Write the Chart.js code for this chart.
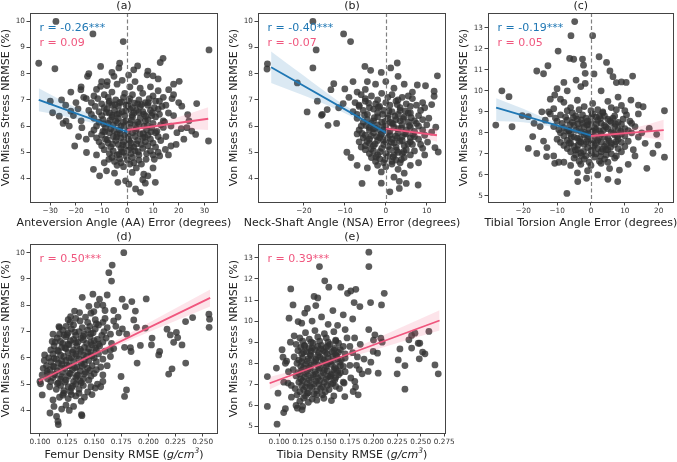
<!DOCTYPE html>
<html>
<head>
<meta charset="utf-8">
<script src="https://cdn.jsdelivr.net/npm/chart.js@4.4.1/dist/chart.umd.min.js"></script>
<style>
  body { margin: 0; background: #fff; width: 677px; height: 462px; position: relative; overflow: hidden; }
  canvas { position: absolute; }
</style>
</head>
<body>
<canvas id="chartA" width="240" height="232" style="left:0;top:0"></canvas>
<canvas id="chartB" width="252" height="232" style="left:214px;top:0"></canvas>
<canvas id="chartC" width="233" height="232" style="left:444px;top:0"></canvas>
<canvas id="chartD" width="240" height="231" style="left:0;top:231px"></canvas>
<canvas id="chartE" width="252" height="231" style="left:214px;top:231px"></canvas>
<script>
// --- data ---

// (a) anteversion angle error vs stress NRMSE
const aaPoints = [
  [-27.8,10.0],[-13.4,9.52],[-1.6,9.23],[-34.5,8.4],[-28.2,8.19],[31.8,8.91],[12.8,8.43],[-10.4,8.28],[-3.3,8.22],[2.5,8.15],
  [7.7,7.96],[10,7.92],[20.2,7.71],[-15.5,7.9],[-30,6.95],[-29.1,6.51],[-25.6,7.0],[-26.5,6.38],[-23.9,6.19],[-22.6,6.0],
  [-20.5,5.24],[-17.7,5.94],[-18.1,7.39],[-22,6.57],[-19.2,6.66],[-15.9,4.99],[-13.2,4.35],[-10.8,4.1],[-8.1,4.29],[-7.2,4.73],
  [-3.7,3.85],[-0.7,3.91],[0.6,3.78],[3.2,3.6],[5.1,3.47],[7,3.82],[10.9,3.85],[6.4,4.16],[1.9,4.23],[7.3,4.73],
  [10.5,4.73],[12.6,4.86],[14.8,5.11],[17,5.24],[19.3,5.75],[23.2,5.94],[25.1,5.81],[26.6,5.68],[27,6.86],[23.5,6.44],
  [21.2,6.76],[18,7.2],[17.4,7.05],[16.1,7.39],[31.6,5.43],[13.9,8.59],[-10.4,7.52],[-5.2,7.9],[-7.8,7.7],
  [-8,7.55],[-4,7.6],[1,7.5],[5,7.45],[9,7.5],[-12,7.4],[12,7.35],[3,7.7],[-2,7.75],
  [-13,7.15],[-9,7.2],[-6,7.3],[-1,7.25],[2,7.2],[6,7.25],[10,7.15],[14,7.1],[-16,7.05],
  [-14,6.9],[-10,6.85],[-7,6.95],[-3,6.9],[0.5,6.95],[4,6.85],[7,6.9],[11,6.95],[15,6.8],
  [-15,6.6],[-11,6.55],[-8,6.65],[-5,6.6],[-2,6.55],[1,6.65],[3.5,6.6],[6,6.55],[9,6.6],[12,6.65],[16,6.5],
  [-13,6.3],[-9.5,6.25],[-6,6.35],[-3.5,6.3],[-0.5,6.2],[2,6.35],[5,6.3],[8,6.25],[11,6.35],[14,6.2],
  [-12,6.0],[-8.5,5.95],[-5.5,6.05],[-2.5,6.0],[0.8,5.95],[3,6.05],[6.5,6.0],[9.5,5.95],[13,6.05],[17,6.0],
  [-14,5.7],[-10,5.65],[-7,5.75],[-4,5.7],[-1,5.65],[2,5.75],[5,5.7],[8,5.65],[11,5.75],[15,5.6],
  [-11,5.4],[-7.5,5.35],[-4.5,5.45],[-1.5,5.4],[1.5,5.35],[4,5.45],[7,5.4],[10,5.35],[13,5.45],
  [-9,5.1],[-5.5,5.05],[-2.5,5.15],[0.5,5.1],[3,5.05],[6,5.15],[9,5.05],[12,5.0],
  [-6,4.8],[-3,4.75],[-0.5,4.85],[2,4.8],[4.5,4.7],[-4,4.5],[-1.5,4.45],[1,4.55],[3.5,4.4],
  [-20,6.9],[-18,6.2],[-19,5.6],[-17,7.1],[-16,5.5],[-21,6.4],[18,6.4],[19,5.3],[20,6.9],[21,5.9],
  [16,4.9],[18,7.6],[-12,4.9],[-9,4.6],[10,4.4],[8,4.1],[-5,4.2],[6,3.95],[-22,7.3],[-24,6.8],
  [-15,8.0],[-6,8.05],[4,8.3],[8,8.1],[-10,7.7],[12,7.8],[-3,8.4],[0.5,7.95],[-18,7.5],[24,6.2],[22,5.5],[-25,6.1],
  [-11.5,7.05],[-7.5,7.1],[-4.5,7.0],[-1.5,7.1],[1,7.05],[4.5,7.0],[8.5,7.05],[12.5,6.95],
  [-12.5,6.75],[-9,6.7],[-6,6.8],[-3.5,6.75],[-0.5,6.8],[2,6.7],[5,6.75],[8,6.8],[10.5,6.7],[13.5,6.75],
  [-14,6.45],[-10,6.4],[-7,6.5],[-4,6.45],[-1,6.4],[2.5,6.5],[6.5,6.45],[9.5,6.4],[12.5,6.45],
  [-11,6.15],[-7.5,6.1],[-4.5,6.2],[-1.5,6.15],[1,6.1],[4,6.15],[7,6.2],[10,6.1],[14.5,6.15],
  [-13,5.85],[-9.5,5.8],[-6.5,5.9],[-3,5.85],[0,5.8],[3.5,5.9],[7.5,5.85],[11.5,5.8],[14,5.95],
  [-12,5.55],[-8.5,5.5],[-5.5,5.6],[-2.5,5.55],[0.5,5.5],[3,5.6],[6,5.55],[9,5.5],[12,5.6],
  [-10,5.25],[-6.5,5.2],[-3.5,5.3],[-0.5,5.25],[2.5,5.2],[5.5,5.3],[8,5.25],[11,5.2],
  [-7,4.95],[-4,4.9],[-1.5,5.0],[1.5,4.95],[4.5,4.9],[7.5,4.95],[10,4.9],
  [-5,4.65],[-2.5,4.6],[0,4.7],[2.5,4.6],[5.5,4.55],
  [-7.2,6.88],[-4.8,6.82],[-2.2,6.92],[0.2,6.8],[2.8,6.88],[5.6,6.82],[8.2,6.9],
  [-8.2,6.52],[-5.8,6.42],[-3.2,6.48],[-0.6,6.58],[1.8,6.42],[4.4,6.52],[7.2,6.38],[9.8,6.5],
  [-9.2,6.08],[-6.8,6.22],[-3.8,6.12],[-1.2,6.02],[1.6,6.22],[4.6,6.08],[7.8,6.02],
  [-8.8,5.78],[-5.2,5.82],[-2.8,5.72],[0.4,5.62],[3.2,5.82],[6.2,5.72],[9.2,5.78],
  [-7.8,5.48],[-4.2,5.58],[-1.8,5.28],[0.8,5.42],[3.6,5.32],[6.8,5.58],
  [-5.8,5.32],[-2.2,5.02],[1.2,5.18],[4.2,5.02],[-3.2,4.92]
];
const aaFitNeg = [[-34.5,7.0],[0,5.78]];
const aaFitPos = [[0,5.85],[31.5,6.28]];
const aaBandNegX = [-34.5,-25,-15,-7,0];
const aaBandNegLo = [6.57,6.39,6.16,5.93,5.65];
const aaBandNegHi = [7.45,6.95,6.47,6.14,5.92];
const aaBandPosX = [0,8,16,24,31.5];
const aaBandPosLo = [5.72,5.86,5.9,5.88,5.85];
const aaBandPosHi = [5.98,6.06,6.24,6.47,6.72];

// (b) neck-shaft angle error
const nsaPoints = [
  [-17.8,10.0],[-10.3,9.52],[-8.6,9.23],[-17,8.91],[-28.9,8.38],[-29,8.18],[-17.8,8.22],[-21.6,7.65],[-12.7,7.62],[-16.7,6.95],
  [-19.2,6.54],[-15.7,6.41],[-14.1,6.03],[-13.4,7.39],[-14.3,6.63],[-10.4,6.86],[-10,7.42],[-5.1,8.28],[-3.7,8.13],[-1.1,8.05],
  [1.2,8.22],[2.8,8.41],[12.6,7.92],[7.7,7.57],[9.7,7.54],[11.8,7.33],[11.8,7.14],[11.2,6.82],[-5.8,3.81],[-1.1,3.82],
  [1,3.49],[3.3,3.62],[5,3.81],[7.9,3.75],[3.3,3.89],[-1.1,4.25],[12.8,5.01],[12,5.18],[11.2,5.77],[12.2,5.96],[10.2,5.39],
  [-15.5,6.45],[-12,6.1],[-11.5,6.7],[-9,7.1],[-8,7.7],[-7,7.3],[-6.5,6.8],[-9.5,5.0],[-8.5,4.8],[-7,4.5],
  [-6,5.2],[-4.5,4.4],[6,4.5],[8,4.6],[9.5,4.9],[4.5,4.2],[2,4.05],[10.5,6.3],[9,6.9],[6.5,7.3],
  [4.5,7.6],[3,7.9],[0,7.7],[-2.5,7.6],[-4.5,7.7],
  [-6,7.2],[-3.5,7.15],[-1,7.25],[1.5,7.2],[4,7.1],[6.5,7.05],[-5,7.4],[2,7.45],
  [-7.5,6.9],[-5,6.95],[-2.5,6.85],[0,6.9],[2.5,6.95],[5,6.85],[7.5,6.8],
  [-8,6.55],[-5.5,6.6],[-3,6.65],[-0.5,6.6],[1.5,6.55],[3.5,6.6],[6,6.5],[8.5,6.6],
  [-7,6.3],[-4.5,6.25],[-2,6.35],[0.5,6.3],[2.5,6.25],[4.5,6.35],[7,6.2],[9,6.25],
  [-6,6.0],[-4,5.95],[-2,6.05],[0,6.0],[2,5.95],[4,6.05],[6,5.95],[8,6.0],
  [-7,5.7],[-5,5.65],[-3,5.75],[-1,5.7],[1,5.65],[3,5.75],[5,5.7],[7,5.6],[9.5,5.65],
  [-6.5,5.4],[-4,5.35],[-2,5.45],[0,5.4],[2,5.35],[4,5.45],[6,5.4],[8.5,5.3],
  [-5,5.1],[-3,5.05],[-1,5.15],[1,5.1],[3,5.0],[5,5.1],[7,5.05],
  [-3.5,4.8],[-1.5,4.75],[0.5,4.85],[2.5,4.7],[4.5,4.8],[-2,4.5],[0,4.45],[1.5,4.55],[3,4.35],
  [-3,6.2],[-1.5,5.85],[0.5,5.55],[-2.2,5.6],[1.2,6.15],[-0.8,6.45],[2.8,5.55],[-4,5.85],
  [-5,7.05],[-2,7.0],[0.5,7.1],[3,7.0],[5.5,7.15],
  [-6.5,6.75],[-4,6.7],[-1.5,6.75],[1,6.8],[3.5,6.7],[6,6.75],[9.5,6.7],
  [-7,6.45],[-4.5,6.45],[-2,6.5],[0.5,6.4],[3,6.45],[5.5,6.5],[8,6.4],
  [-5.5,6.15],[-3.5,6.1],[-1,6.15],[1.5,6.1],[3.5,6.2],[5.5,6.15],[7.5,6.1],[10,6.05],
  [-6.5,5.85],[-3,5.9],[-0.5,5.85],[1,5.8],[3,5.9],[5,5.85],[7,5.8],[9,5.85],
  [-5.5,5.55],[-4,5.5],[-1.5,5.55],[1.5,5.5],[4,5.6],[6,5.55],[8,5.5],
  [-5,5.25],[-3,5.25],[-0.5,5.3],[2.5,5.2],[4.5,5.25],[6.5,5.3],[9,5.15],
  [-4,4.95],[-2,4.9],[0,4.95],[2,4.9],[4,4.95],[6,4.9],
  [-2.5,4.65],[-0.5,4.6],[1.5,4.65],[3.5,4.6],
  [-4.2,6.88],[-1.8,6.72],[0.8,6.58],[2.8,6.82],[4.8,6.58],
  [-5.2,6.42],[-2.8,6.32],[-0.2,6.18],[2.2,6.38],[4.2,6.28],[6.2,6.32],
  [-4.8,6.02],[-2.6,5.92],[-0.4,5.98],[1.8,6.08],[3.8,5.92],[5.8,6.02],
  [-5.8,5.72],[-3.6,5.62],[-1.2,5.68],[0.6,5.78],[2.4,5.62],[4.6,5.72],[6.6,5.68],
  [-4.6,5.42],[-2.6,5.32],[-0.6,5.48],[1.4,5.38],[3.4,5.42],[5.4,5.32],
  [-3.6,5.12],[-1.4,5.02],[0.6,5.22],[2.6,5.08],[4.4,5.02],
  [-2.4,4.82],[-0.2,4.72],[1.8,4.82],[3.8,4.72]
];
const nsaFitNeg = [[-28,8.25],[0,5.75]];
const nsaFitPos = [[0,5.9],[12.5,5.65]];
const nsaBandNegX = [-28,-20,-12,-5,0];
const nsaBandNegLo = [7.65,7.17,6.64,6.08,5.6];
const nsaBandNegHi = [8.85,7.92,7.0,6.33,5.9];
const nsaBandPosX = [0,4,8,12.5];
const nsaBandPosLo = [5.75,5.73,5.6,5.4];
const nsaBandPosHi = [6.05,5.91,5.88,5.92];

// (c) tibial torsion angle error
const ttaPoints = [
  [-4.8,13.29],[-5.9,12.62],[0.5,12.62],[-9.7,11.89],[2.4,11.62],[4.6,11.35],[-6.3,11.54],[-5.1,11.5],[-2.5,11.51],[-12.7,11.19],
  [-2.2,11.22],[-1.7,10.83],[0.9,10.8],[-16,10.94],[-14,10.81],[5.6,10.94],[6.5,10.67],[7.5,10.39],[9,10.42],[10.4,10.4],
  [12.3,10.7],[-4.4,10.51],[-1.7,10.35],[-26.3,10.0],[-24.2,9.72],[-10.7,9.8],[-28.1,8.37],[-23.3,8.29],[-20.3,8.82],[-18.5,8.77],
  [-16.8,8.45],[11.8,9.56],[14,9.32],[15.4,9.24],[21.7,9.05],[17.2,8.21],[19.4,7.93],[19.8,7.42],[18.3,7.03],[21.7,6.84],
  [16.5,6.31],[8.4,6.23],[7.9,5.68],[5,5.79],[-7.1,5.12],[-3.9,5.68],[-1.3,5.84],[-17.2,7.82],[-18.5,7.26],[-16,7.02],
  [-13.1,6.87],[-14,7.61],[-10.7,6.55],[-9.5,6.6],
  [-10,10.1],[-7,10.0],[-3,10.2],[3,10.0],[-14.5,9.0],[-15,8.3],[-13.5,8.6],[15,8.0],[14,8.9],[16,7.5],[13,6.9],[-12,9.6],[-8,10.4],
  [-8,9.45],[-4,9.55],[0.5,9.4],[5,9.5],[9,9.3],
  [-11,9.15],[-6,9.2],[-2,9.25],[2,9.1],[6,9.2],[10,9.05],
  [-12,8.9],[-9,8.85],[-5.5,8.95],[-2.5,8.85],[0.5,8.9],[3.5,8.95],[7,8.8],[10.5,8.85],
  [-10,8.55],[-7,8.6],[-4,8.65],[-1,8.55],[2,8.6],[5,8.65],[8,8.5],[11.5,8.55],
  [-11,8.3],[-8,8.25],[-5,8.35],[-2,8.3],[1,8.25],[4,8.35],[7,8.3],[10,8.2],[13,8.3],
  [-9,8.0],[-6,7.95],[-3,8.05],[0,8.0],[3,7.95],[6,8.05],[9,7.95],[12,8.0],
  [-10,7.7],[-7,7.65],[-4,7.75],[-1,7.7],[2,7.65],[5,7.75],[8,7.7],[11,7.6],
  [-8,7.4],[-5,7.35],[-2,7.45],[1,7.4],[4,7.35],[7,7.45],[10,7.35],
  [-6,7.1],[-3,7.05],[0,7.15],[3,7.1],[6,7.0],[9,7.1],
  [-5,6.8],[-2,6.75],[1,6.85],[4,6.75],[7,6.8],[-3,6.5],[0,6.45],[3,6.55],[-6,6.45],
  [-1.5,7.95],[1.5,8.15],[-3.5,7.6],[4.5,7.2],[0.5,7.6],[-0.8,8.4],[2.5,8.8],[-6.5,8.1],[8,9.7],[-9,9.6],
  [-12.5,9.0],[14,7.8],[12.5,7.2],[-13,7.3],[-11,6.9],[-8,6.6],[11,6.5],[5.5,6.3],[-1,6.2],[2,6.0],[-4,6.1],
  [-7,9.05],[-3.5,9.1],[0,9.05],[3.5,9.0],[7.5,9.1],
  [-10.5,8.7],[-7.5,8.75],[-4.5,8.8],[-1.5,8.7],[1.5,8.75],[4,8.8],[6.5,8.7],[9.5,8.65],
  [-8.5,8.45],[-5.5,8.5],[-2.5,8.45],[0,8.5],[3,8.45],[6,8.5],[9,8.4],[12,8.45],
  [-9.5,8.15],[-6.5,8.1],[-3.5,8.2],[-0.5,8.15],[2.5,8.1],[5,8.2],[8,8.15],[11,8.1],
  [-8,7.85],[-5,7.8],[-2,7.9],[1,7.85],[4,7.8],[7,7.9],[10,7.85],
  [-9,7.55],[-6,7.5],[-3,7.55],[0,7.5],[3,7.55],[6,7.5],[9,7.55],
  [-7,7.25],[-4,7.2],[-1,7.3],[2,7.25],[5,7.2],[8,7.25],
  [-4.5,6.95],[-1.5,6.9],[1.5,7.0],[4.5,6.95],[7.5,6.9],
  [-3.5,6.65],[-0.5,6.6],[2.5,6.65],[5,6.6],
  [-5.2,8.72],[-2.8,8.62],[0.2,8.78],[2.8,8.68],[5.6,8.58],
  [-6.2,8.38],[-3.8,8.42],[-1.2,8.38],[1.6,8.42],[4.4,8.28],[7.2,8.42],
  [-7.2,8.08],[-4.4,8.12],[-1.8,8.02],[0.6,8.08],[3.6,8.12],[6.6,7.98],[8.8,8.08],
  [-5.8,7.78],[-3.2,7.72],[-0.6,7.82],[2.4,7.78],[5.4,7.62],[7.8,7.82],
  [-6.4,7.52],[-3.8,7.42],[-1.4,7.58],[1.6,7.52],[4.6,7.48],[7.4,7.58],
  [-4.6,7.18],[-2.2,7.12],[0.6,7.28],[3.4,7.22],[5.8,7.32],
  [-2.8,6.92],[0.2,6.98],[2.8,6.88]
];
const ttaFitNeg = [[-28,9.2],[0,7.88]];
const ttaFitPos = [[0,7.85],[21.5,8.13]];
const ttaBandNegX = [-28,-20,-12,-5,0];
const ttaBandNegLo = [8.55,8.5,8.3,8.0,7.72];
const ttaBandNegHi = [9.65,9.15,8.6,8.24,8.03];
const ttaBandPosX = [0,6,12,21.5];
const ttaBandPosLo = [7.7,7.83,7.84,7.65];
const ttaBandPosHi = [8.0,8.04,8.2,8.62];

// (d) femur density RMSE
const femurPoints = [
  [0.1773,10.0],[0.1666,9.53],[0.1635,9.24],[0.166,8.92],[0.139,8.3],[0.1488,8.42],[0.1549,8.23],[0.162,8.39],[0.1758,8.23],[0.1847,8.14],
  [0.198,8.24],[0.1788,7.95],[0.188,7.78],[0.2172,7.09],[0.2202,6.87],[0.2258,6.97],[0.227,6.77],[0.2233,6.59],[0.231,6.49],[0.2343,7.38],
  [0.2408,7.53],[0.2564,7.47],[0.2558,7.66],[0.256,7.16],[0.2344,5.8],[0.2218,5.58],[0.2187,5.38],[0.2104,6.24],[0.2095,6.11],[0.2034,6.75],
  [0.2028,6.49],[0.1972,7.13],[0.1926,6.47],[0.1896,5.8],[0.1834,6.39],[0.184,6.24],[0.1748,5.29],[0.1798,4.78],[0.178,4.53],[0.1865,7.44],
  [0.189,7.16],[0.1006,5.01],[0.1021,4.59],[0.1092,3.9],[0.1153,3.77],[0.1166,3.58],[0.1169,3.46],[0.1129,4.15],[0.1383,3.84],[0.1387,3.8],
  [0.1067,5.48],[0.1043,6.11],[0.1113,6.62],[0.1175,7.19],[0.1221,6.87],[0.1282,7.57],[0.1319,7.78],[0.1365,7.72],[0.1451,7.96],[0.1497,7.76],[0.1528,8.01],
  [0.133,7.5],[0.142,7.55],[0.151,7.45],[0.16,7.5],[0.168,7.4],[0.147,7.7],
  [0.124,7.2],[0.131,7.25],[0.139,7.15],[0.146,7.2],[0.154,7.25],[0.162,7.15],[0.17,7.2],
  [0.118,6.9],[0.126,6.95],[0.133,6.85],[0.141,6.9],[0.149,6.95],[0.157,6.85],[0.165,6.9],[0.173,6.95],
  [0.114,6.6],[0.121,6.55],[0.128,6.65],[0.135,6.6],[0.143,6.55],[0.15,6.65],[0.158,6.6],[0.166,6.55],
  [0.11,6.3],[0.117,6.25],[0.124,6.35],[0.131,6.3],[0.138,6.25],[0.145,6.35],[0.152,6.3],[0.16,6.25],[0.168,6.35],
  [0.108,6.0],[0.115,5.95],[0.122,6.05],[0.129,6.0],[0.136,5.95],[0.143,6.05],[0.15,6.0],[0.158,5.95],[0.165,6.05],
  [0.106,5.7],[0.113,5.65],[0.12,5.75],[0.127,5.7],[0.134,5.65],[0.141,5.75],[0.148,5.7],[0.156,5.65],
  [0.107,5.4],[0.114,5.35],[0.121,5.45],[0.128,5.4],[0.135,5.35],[0.142,5.45],[0.15,5.4],[0.158,5.35],
  [0.11,5.1],[0.117,5.05],[0.124,5.15],[0.131,5.1],[0.138,5.05],[0.145,5.15],[0.153,5.0],
  [0.115,4.8],[0.122,4.75],[0.129,4.85],[0.136,4.8],[0.144,4.7],[0.151,4.85],
  [0.118,4.5],[0.126,4.45],[0.133,4.55],[0.141,4.5],[0.124,4.2],[0.131,4.15],[0.12,4.05],[0.127,4.0],
  [0.104,5.9],[0.103,5.6],[0.107,5.2],[0.112,4.4],[0.109,4.9],[0.16,7.8],[0.158,8.0],[0.168,7.8],[0.172,7.55],[0.176,7.1],
  [0.18,6.9],[0.178,6.4],[0.162,5.7],[0.158,5.1],[0.165,6.3],[0.156,4.9],[0.148,4.6],[0.138,4.35],[0.102,5.35],[0.112,6.9],
  [0.118,7.15],[0.126,7.45],[0.1,5.1],
  [0.128,7.35],[0.137,7.4],[0.144,7.35],[0.152,7.3],[0.158,7.35],
  [0.121,7.05],[0.129,7.1],[0.136,7.0],[0.144,7.05],[0.151,7.1],[0.159,7.0],
  [0.116,6.75],[0.124,6.8],[0.131,6.7],[0.138,6.75],[0.146,6.8],[0.153,6.7],[0.161,6.75],
  [0.113,6.45],[0.12,6.4],[0.127,6.5],[0.134,6.45],[0.141,6.4],[0.148,6.5],[0.155,6.45],
  [0.112,6.15],[0.119,6.1],[0.126,6.2],[0.133,6.15],[0.14,6.1],[0.147,6.2],[0.154,6.15],
  [0.11,5.85],[0.117,5.8],[0.124,5.9],[0.131,5.85],[0.138,5.8],[0.145,5.9],[0.152,5.85],
  [0.109,5.55],[0.116,5.5],[0.123,5.6],[0.13,5.55],[0.137,5.5],[0.144,5.6],[0.152,5.55],
  [0.112,5.25],[0.119,5.2],[0.126,5.3],[0.133,5.25],[0.14,5.2],[0.147,5.3],
  [0.119,4.95],[0.126,4.9],[0.133,5.0],[0.14,4.95],[0.147,4.9],
  [0.122,4.65],[0.129,4.6],[0.136,4.65],
  [0.125,6.88],[0.132,6.98],[0.14,6.82],[0.147,6.92],
  [0.119,6.62],[0.126,6.52],[0.133,6.58],[0.14,6.68],[0.147,6.58],[0.154,6.52],
  [0.116,6.28],[0.123,6.38],[0.13,6.22],[0.137,6.32],[0.144,6.22],[0.151,6.38],
  [0.113,5.98],[0.12,5.88],[0.127,5.98],[0.134,6.08],[0.141,5.92],[0.148,6.08],
  [0.112,5.68],[0.119,5.62],[0.125,5.72],[0.132,5.62],[0.139,5.68],[0.146,5.52],
  [0.113,5.38],[0.12,5.28],[0.127,5.42],[0.134,5.32],[0.141,5.38],
  [0.116,5.02],[0.123,5.08],[0.13,4.92],[0.137,5.12],[0.128,4.72],[0.121,4.58]
];
const femurFit = [[0.099,5.12],[0.257,8.28]];
const femurBandX = [0.099,0.13,0.16,0.2,0.257];
const femurBandLo = [4.98,5.67,6.26,6.97,7.95];
const femurBandHi = [5.27,5.81,6.43,7.32,8.6];

// (e) tibia density RMSE
const tibiaPoints = [
  [0.1951,13.27],[0.1951,12.59],[0.1428,12.59],[0.1484,11.91],[0.1527,11.61],[0.1654,11.61],[0.1124,11.53],[0.1148,10.77],[0.1371,11.17],[0.1389,10.74],
  [0.1725,11.32],[0.176,11.43],[0.1813,11.51],[0.1795,10.88],[0.1856,10.69],[0.1969,10.88],[0.2085,10.77],[0.2114,11.32],[0.1106,10.14],[0.1272,10.38],
  [0.1202,9.98],[0.1032,8.64],[0.0972,7.77],[0.0876,7.37],[0.0876,5.95],[0.0979,5.11],[0.0989,6.58],[0.1049,5.66],[0.1067,5.84],[0.1131,6.39],
  [0.1194,5.87],[0.1244,5.79],[0.1095,7.06],[0.1042,8.29],[0.1067,8.0],[0.1474,6.34],[0.1555,6.23],[0.1696,6.42],[0.1689,7.06],[0.1802,7.14],
  [0.1785,6.66],[0.1838,6.5],[0.181,6.87],[0.1944,7.61],[0.1972,8.05],[0.1997,8.56],[0.2015,9.35],[0.2078,9.19],[0.2043,8.48],[0.2092,9.0],
  [0.205,7.53],[0.2251,7.5],[0.2262,8.16],[0.228,8.68],[0.2333,7.89],[0.2333,6.77],[0.2375,9.11],[0.2404,9.32],[0.2439,9.43],[0.2474,8.95],
  [0.249,8.95],[0.2485,8.21],[0.252,8.53],[0.2545,8.45],[0.2587,9.51],[0.2651,7.92],[0.2686,7.5],[0.2404,8.72],
  [0.128,9.45],[0.138,9.55],[0.148,9.4],[0.158,9.5],[0.17,9.6],
  [0.122,9.2],[0.132,9.15],[0.141,9.25],[0.15,9.2],[0.16,9.1],[0.172,9.2],
  [0.118,8.9],[0.127,8.85],[0.136,8.95],[0.145,8.85],[0.154,8.9],[0.163,8.95],[0.175,8.8],
  [0.12,8.6],[0.129,8.55],[0.138,8.65],[0.147,8.6],[0.156,8.55],[0.165,8.65],[0.178,8.5],
  [0.116,8.3],[0.125,8.25],[0.134,8.35],[0.143,8.3],[0.152,8.25],[0.161,8.35],[0.17,8.25],[0.183,8.3],
  [0.119,8.0],[0.128,7.95],[0.137,8.05],[0.146,8.0],[0.155,7.95],[0.164,8.05],[0.175,7.9],
  [0.115,7.7],[0.124,7.65],[0.133,7.75],[0.142,7.7],[0.151,7.65],[0.16,7.75],[0.17,7.6],[0.185,7.7],
  [0.118,7.4],[0.127,7.35],[0.136,7.45],[0.145,7.4],[0.154,7.35],[0.163,7.45],[0.176,7.3],
  [0.121,7.1],[0.13,7.05],[0.139,7.15],[0.148,7.1],[0.157,7.05],[0.168,7.1],
  [0.117,6.8],[0.126,6.75],[0.135,6.85],[0.144,6.8],[0.153,6.75],[0.164,6.8],
  [0.119,6.5],[0.128,6.45],[0.137,6.55],[0.146,6.5],[0.158,6.45],[0.122,6.2],[0.131,6.15],[0.14,6.25],[0.125,5.95],
  [0.113,6.95],[0.11,7.6],[0.108,8.1],[0.112,9.0],[0.116,9.3],[0.124,9.9],[0.135,10.0],[0.145,10.2],[0.152,9.85],[0.162,9.8],
  [0.13,10.6],[0.141,11.1],[0.157,10.5],[0.168,10.3],[0.18,9.2],[0.186,8.9],[0.19,8.2],[0.188,7.5],[0.182,7.9],[0.195,9.6],
  [0.178,10.1],[0.2,9.1],[0.118,6.0],[0.105,7.1],
  [0.125,9.05],[0.134,9.0],[0.143,9.05],[0.152,9.0],[0.16,9.05],
  [0.123,8.75],[0.132,8.7],[0.141,8.8],[0.15,8.75],[0.159,8.7],[0.168,8.8],
  [0.124,8.45],[0.133,8.4],[0.142,8.5],[0.151,8.45],[0.16,8.4],[0.17,8.45],
  [0.121,8.15],[0.13,8.1],[0.139,8.2],[0.148,8.15],[0.157,8.1],[0.166,8.15],
  [0.123,7.85],[0.132,7.8],[0.141,7.9],[0.15,7.85],[0.159,7.8],[0.168,7.85],
  [0.12,7.55],[0.129,7.5],[0.138,7.6],[0.147,7.55],[0.156,7.5],[0.165,7.55],
  [0.123,7.25],[0.132,7.2],[0.141,7.3],[0.15,7.25],[0.159,7.2],
  [0.124,6.95],[0.133,6.9],[0.142,7.0],[0.151,6.95],[0.16,6.9],
  [0.122,6.65],[0.131,6.6],[0.14,6.7],[0.149,6.65],[0.126,6.35],[0.135,6.3],
  [0.127,8.82],[0.135,8.72],[0.144,8.68],[0.152,8.82],[0.158,8.62],
  [0.126,8.52],[0.134,8.58],[0.141,8.38],[0.149,8.52],[0.157,8.32],[0.163,8.52],
  [0.124,8.08],[0.131,8.22],[0.139,8.12],[0.146,8.22],[0.154,8.08],[0.162,8.22],
  [0.126,7.78],[0.134,7.92],[0.143,7.78],[0.151,7.98],[0.158,7.68],[0.165,7.88],
  [0.122,7.48],[0.13,7.62],[0.139,7.48],[0.148,7.68],[0.155,7.42],[0.162,7.62],
  [0.125,7.18],[0.134,7.32],[0.143,7.18],[0.152,7.38],[0.16,7.32],
  [0.128,6.88],[0.137,7.02],[0.146,6.88],[0.155,7.02],[0.13,6.58],[0.14,6.52]
];
const tibiaFit = [[0.09,7.05],[0.27,10.03]];
const tibiaBandX = [0.09,0.12,0.15,0.2,0.27];
const tibiaBandLo = [6.75,7.38,7.94,8.62,9.55];
const tibiaBandHi = [7.35,7.71,8.15,9.12,10.52];

// tick labels
const angleTicksA = [-30,-20,-10,0,10,20,30];
const angleTicksB = [-20,-10,0,10];
const angleTicksC = [-20,-10,0,10,20];
const femurTicks = [0.100,0.125,0.150,0.175,0.200,0.225,0.250];
const tibiaTicks = [0.100,0.125,0.150,0.175,0.200,0.225,0.250,0.275];
const stressTicksLow = [4,5,6,7,8,9,10];
const stressTicksHigh = [5,6,7,8,9,10,11,12,13];

const FONT = '"DejaVu Sans", sans-serif';
const BLUE = '#1f77b4';
const PINK = '#f0567e';
const DOT = 'rgba(50,50,50,0.8)';
const Y_LABEL = 'Von Mises Stress NRMSE (%)';

const minusFmt = v => v < 0 ? '\u2212' + Math.abs(v) : String(v);
const densFmt = v => v.toFixed(3);
const toXY = arr => arr.map(p => ({ x: p[0], y: p[1] }));
const zipXY = (xs, ys) => xs.map((x, i) => ({ x: x, y: ys[i] }));

// frame, zero line and all the matplotlib-style text
const decor = {
  id: 'decor',
  afterDatasetDraw(chart, args, o) {
    if (args.index !== 0 || !o.zeroLine) return;
    const ctx = chart.ctx, a = chart.chartArea;
    const px = Math.round(chart.scales.x.getPixelForValue(0)) + 0.5;
    ctx.save();
    ctx.strokeStyle = '#808080';
    ctx.lineWidth = 1.2;
    ctx.setLineDash([4, 2.5]);
    ctx.beginPath();
    ctx.moveTo(px, a.top);
    ctx.lineTo(px, a.bottom);
    ctx.stroke();
    ctx.restore();
  },
  afterDraw(chart, args, o) {
    const ctx = chart.ctx, a = chart.chartArea;
    ctx.save();
    ctx.strokeStyle = '#444';
    ctx.lineWidth = 1;
    ctx.strokeRect(Math.round(a.left) + 0.5, Math.round(a.top) + 0.5,
      Math.round(a.right - a.left) - 1, Math.round(a.bottom - a.top));
    const cx = (a.left + a.right) / 2;
    ctx.fillStyle = '#222';
    ctx.textBaseline = 'middle';
    ctx.textAlign = 'center';
    ctx.font = '11px ' + FONT;
    ctx.fillText(o.title, cx, 6);
    // x label, possibly with italic parts
    let w = 0;
    o.xLabel.forEach(s => {
      ctx.font = (s.it ? 'italic ' : '') + (s.sup ? '7.5px ' : '11px ') + FONT;
      w += ctx.measureText(s.t).width;
    });
    let x = cx - w / 2;
    ctx.textAlign = 'left';
    o.xLabel.forEach(s => {
      ctx.font = (s.it ? 'italic ' : '') + (s.sup ? '7.5px ' : '11px ') + FONT;
      ctx.fillText(s.t, x, o.xLabelY - (s.sup ? 4 : 0));
      x += ctx.measureText(s.t).width;
    });
    // y label
    ctx.save();
    ctx.translate(a.left - 23.5, (a.top + a.bottom) / 2);
    ctx.rotate(-Math.PI / 2);
    ctx.textAlign = 'center';
    ctx.font = '11px ' + FONT;
    ctx.fillText(Y_LABEL, 0, 0);
    ctx.restore();
    // correlation notes
    ctx.textAlign = 'left';
    ctx.font = '11px ' + FONT;
    o.notes.forEach((n, i) => {
      ctx.fillStyle = n.color;
      ctx.fillText(n.text, a.left + 9.5, a.top + 15 + i * 15);
    });
    ctx.restore();
  }
};

function bandSets(xs, lo, hi, color) {
  return [
    { type: 'line', data: zipXY(xs, hi), borderColor: 'rgba(0,0,0,0)', borderWidth: 1, pointRadius: 0,
      fill: false, cubicInterpolationMode: 'monotone', order: 2 },
    { type: 'line', data: zipXY(xs, lo), borderColor: 'rgba(0,0,0,0)', borderWidth: 1, pointRadius: 0,
      fill: '-1', backgroundColor: color, cubicInterpolationMode: 'monotone', order: 2 }
  ];
}

function fitSet(pts, color) {
  return { type: 'line', data: toXY(pts), borderColor: color, borderWidth: 1.8, pointRadius: 0, fill: false, order: 1 };
}

function axis(min, max, ticks, fmt, size, isX) {
  return {
    type: 'linear', min: min, max: max,
    afterFit: s => { if (isX) s.height = size; else s.width = size; },
    afterBuildTicks: s => { s.ticks = ticks.map(v => ({ value: v })); },
    grid: { drawOnChartArea: false, drawTicks: true, tickLength: 3.5, color: '#444', lineWidth: 1 },
    border: { display: false },
    ticks: { autoSkip: false, maxRotation: 0, padding: isX ? 1 : 1.5, color: '#333',
      font: { family: FONT, size: 7.3 }, callback: v => fmt(v) }
  };
}

function makePanel(id, p) {
  const datasets = [
    { type: 'scatter', data: toXY(p.points), pointRadius: 3.4, pointBackgroundColor: DOT,
      pointBorderWidth: 0, pointHoverRadius: 3.4, order: 3 }
  ];
  p.fits.forEach(f => {
    datasets.push(...bandSets(f.bx, f.lo, f.hi, f.band));
    datasets.push(fitSet(f.line, f.color));
  });
  new Chart(document.getElementById(id), {
    type: 'scatter',
    data: { datasets: datasets },
    options: {
      responsive: false,
      animation: false,
      events: [],
      layout: { padding: { top: 13, right: p.padR, left: p.padL, bottom: 0 } },
      scales: {
        x: axis(p.xMin, p.xMax, p.xTicks, p.xFmt, p.xAxisH, true),
        y: axis(p.yMin, p.yMax, p.yTicks, minusFmt, 30, false)
      },
      plugins: {
        legend: { display: false },
        tooltip: { enabled: false },
        decor: { title: p.title, xLabel: p.xLabel, xLabelY: p.xLabelY, notes: p.notes, zeroLine: p.zeroLine }
      }
    },
    plugins: [decor]
  });
}

const BLUE_BAND = 'rgba(31,119,180,0.16)';
const PINK_BAND = 'rgba(240,86,126,0.16)';

makePanel('chartA', {
  title: '(a)', points: aaPoints, xMin: -37.9, xMax: 35.3, yMin: 3.1, yMax: 10.32,
  xTicks: angleTicksA, yTicks: stressTicksLow, xFmt: minusFmt, xAxisH: 30, padL: 0, padR: 22,
  xLabel: [{ t: 'Anteversion Angle (AA) Error (degrees)' }], xLabelY: 223, zeroLine: true,
  notes: [{ text: 'r = -0.26***', color: BLUE }, { text: 'r = 0.09', color: PINK }],
  fits: [
    { line: aaFitNeg, color: BLUE, bx: aaBandNegX, lo: aaBandNegLo, hi: aaBandNegHi, band: BLUE_BAND },
    { line: aaFitPos, color: PINK, bx: aaBandPosX, lo: aaBandPosLo, hi: aaBandPosHi, band: PINK_BAND }
  ]
});

makePanel('chartB', {
  title: '(b)', points: nsaPoints, xMin: -31.2, xMax: 14.7, yMin: 3.1, yMax: 10.32,
  xTicks: angleTicksB, yTicks: stressTicksLow, xFmt: minusFmt, xAxisH: 30, padL: 14, padR: 20,
  xLabel: [{ t: 'Neck-Shaft Angle (NSA) Error (degrees)' }], xLabelY: 223, zeroLine: true,
  notes: [{ text: 'r = -0.40***', color: BLUE }, { text: 'r = -0.07', color: PINK }],
  fits: [
    { line: nsaFitNeg, color: BLUE, bx: nsaBandNegX, lo: nsaBandNegLo, hi: nsaBandNegHi, band: BLUE_BAND },
    { line: nsaFitPos, color: PINK, bx: nsaBandPosX, lo: nsaBandPosLo, hi: nsaBandPosHi, band: PINK_BAND }
  ]
});

makePanel('chartC', {
  title: '(c)', points: ttaPoints, xMin: -30.4, xMax: 24.4, yMin: 4.71, yMax: 13.7,
  xTicks: angleTicksC, yTicks: stressTicksHigh, xFmt: minusFmt, xAxisH: 30, padL: 14, padR: 1,
  xLabel: [{ t: 'Tibial Torsion Angle Error (degrees)' }], xLabelY: 223, zeroLine: true,
  notes: [{ text: 'r = -0.19***', color: BLUE }, { text: 'r = 0.05', color: PINK }],
  fits: [
    { line: ttaFitNeg, color: BLUE, bx: ttaBandNegX, lo: ttaBandNegLo, hi: ttaBandNegHi, band: BLUE_BAND },
    { line: ttaFitPos, color: PINK, bx: ttaBandPosX, lo: ttaBandPosLo, hi: ttaBandPosHi, band: PINK_BAND }
  ]
});

makePanel('chartD', {
  title: '(d)', points: femurPoints, xMin: 0.0908, xMax: 0.2642, yMin: 3.14, yMax: 10.33,
  xTicks: femurTicks, yTicks: stressTicksLow, xFmt: densFmt, xAxisH: 29, padL: 0, padR: 22,
  xLabel: [{ t: 'Femur Density RMSE (' }, { t: 'g/cm', it: true }, { t: '3', it: true, sup: true }, { t: ')' }],
  xLabelY: 224, zeroLine: false,
  notes: [{ text: 'r = 0.50***', color: PINK }],
  fits: [{ line: femurFit, color: PINK, bx: femurBandX, lo: femurBandLo, hi: femurBandHi, band: PINK_BAND }]
});

makePanel('chartE', {
  title: '(e)', points: tibiaPoints, xMin: 0.0777, xMax: 0.2768, yMin: 4.69, yMax: 13.66,
  xTicks: tibiaTicks, yTicks: stressTicksHigh, xFmt: densFmt, xAxisH: 29, padL: 14, padR: 20,
  xLabel: [{ t: 'Tibia Density RMSE (' }, { t: 'g/cm', it: true }, { t: '3', it: true, sup: true }, { t: ')' }],
  xLabelY: 224, zeroLine: false,
  notes: [{ text: 'r = 0.39***', color: PINK }],
  fits: [{ line: tibiaFit, color: PINK, bx: tibiaBandX, lo: tibiaBandLo, hi: tibiaBandHi, band: PINK_BAND }]
});
</script>
</body>
</html>
